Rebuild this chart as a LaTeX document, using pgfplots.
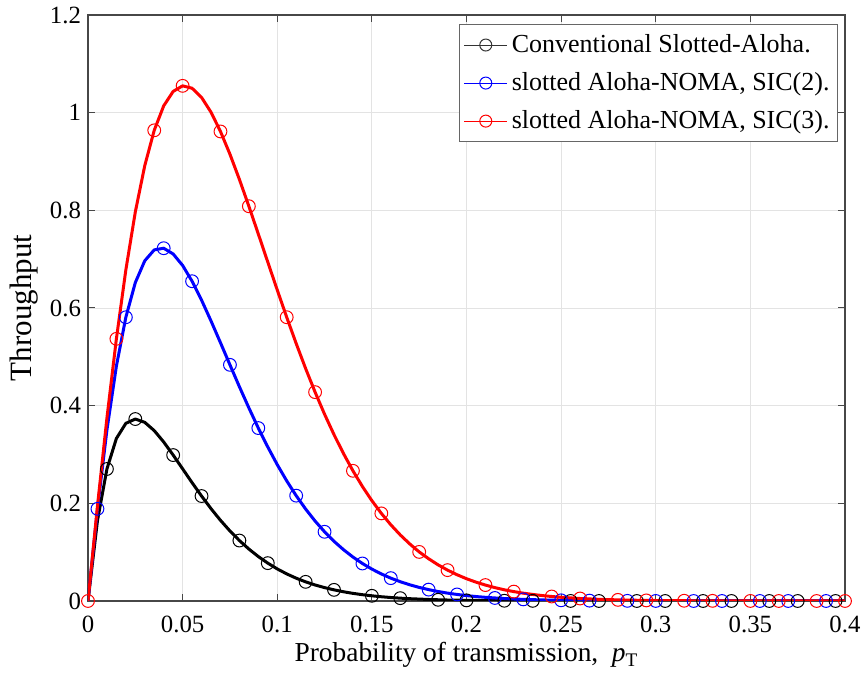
\documentclass[border=0pt]{standalone}
\usepackage{fontspec}
\setmainfont{Liberation Serif}
\usepackage{pgfplots}
\usepackage{pgfplotstable}
\pgfplotsset{compat=1.18}
\pgfplotstableread{
x k b r
0 0 0 0
0.005 0.1645 0.1887 0.1944
0.010 0.2703 0.3502 0.3747
0.015 0.3328 0.4810 0.5368
0.020 0.3638 0.5810 0.6780
0.025 0.3726 0.6520 0.7966
0.030 0.3658 0.6967 0.8916
0.035 0.3489 0.7190 0.9638
0.040 0.3256 0.7224 1.0139
0.045 0.2988 0.7106 1.0435
0.050 0.2706 0.6871 1.0549
0.055 0.2423 0.6548 1.0500
0.060 0.2149 0.6161 1.0312
0.065 0.1891 0.5735 1.0009
0.070 0.1652 0.5289 0.9615
0.075 0.1434 0.4836 0.9150
0.080 0.1238 0.4388 0.8633
0.085 0.1064 0.3955 0.8084
0.090 0.0910 0.3541 0.7515
0.095 0.0775 0.3154 0.6940
0.100 0.0657 0.2792 0.6369
0.105 0.0555 0.2460 0.5811
0.110 0.0467 0.2157 0.5273
0.115 0.0392 0.1883 0.4760
0.120 0.0328 0.1637 0.4277
0.125 0.0274 0.1417 0.3825
0.130 0.0228 0.1222 0.3406
0.135 0.0189 0.1051 0.3019
0.140 0.0156 0.0900 0.2666
0.145 0.0129 0.0768 0.2345
0.150 0.0106 0.0653 0.2055
0.155 0.0087 0.0554 0.1794
0.160 0.0071 0.0468 0.1561
0.165 0.0058 0.0395 0.1353
0.170 0.0047 0.0332 0.1169
0.175 0.0039 0.0278 0.1005
0.180 0.0031 0.0233 0.0865
0.185 0.0025 0.0194 0.0740
0.190 0.0020 0.0161 0.0632
0.195 0.0017 0.0134 0.0538
0.200 0.0013 0.0110 0.0456
0.205 0.0011 0.0091 0.0386
0.210 0.0009 0.0075 0.0326
0.215 0.0007 0.0062 0.0274
0.220 0.0005 0.0050 0.0229
0.225 0.0004 0.0041 0.0192
0.230 0.0003 0.0033 0.0160
0.235 0.0003 0.0027 0.0134
0.240 0.0002 0.0022 0.0111
0.245 0.0002 0.0018 0.0092
0.250 0.0001 0.0014 0.0076
0.260 0.0001 0.0009 0.0051
0.270 0.0000 0.0006 0.0034
0.280 0.0000 0.0004 0.0023
0.290 0 0.0003 0.0015
0.300 0 0.0001 0.0010
0.320 0 0 0.0004
0.340 0 0 0.0001
0.360 0 0 0
0.400 0 0 0
}\linedata
\pgfplotstableread{
x y
0.010 0.2703
0.025 0.3726
0.045 0.2988
0.060 0.2149
0.080 0.1238
0.095 0.0775
0.115 0.0392
0.130 0.0228
0.150 0.0106
0.165 0.0058
0.185 0.0025
0.200 0.0013
0.220 0.0005
0.235 0.0003
0.255 0.0001
0.270 0
0.290 0
0.305 0
0.325 0
0.340 0
0.360 0
0.375 0
0.395 0
}\markk
\pgfplotstableread{
x y
0.005 0.1887
0.020 0.5810
0.040 0.7224
0.055 0.6548
0.075 0.4836
0.090 0.3541
0.110 0.2157
0.125 0.1417
0.145 0.0768
0.160 0.0468
0.180 0.0233
0.195 0.0134
0.215 0.0062
0.230 0.0033
0.250 0.0014
0.265 0.0007
0.285 0.0003
0.300 0.0001
0.320 0
0.335 0
0.355 0
0.370 0
0.390 0
}\markb
\pgfplotstableread{
x y
0 0
0.015 0.5368
0.035 0.9638
0.050 1.0549
0.070 0.9615
0.085 0.8084
0.105 0.5811
0.120 0.4277
0.140 0.2666
0.155 0.1794
0.175 0.1005
0.190 0.0632
0.210 0.0326
0.225 0.0192
0.245 0.0092
0.260 0.0051
0.280 0.0023
0.295 0.0012
0.315 0.0005
0.330 0.0003
0.350 0.0001
0.365 0
0.385 0
0.400 0
}\markr
\begin{document}
\begin{tikzpicture}
\begin{axis}[
  name=ax,
  scale only axis, width=378.5pt, height=293pt,
  xmin=0, xmax=0.4, ymin=0, ymax=1.2,
  xtick={0,0.05,0.1,0.15,0.2,0.25,0.3,0.35,0.4},
  xticklabels={0,0.05,0.1,0.15,0.2,0.25,0.3,0.35,0.4},
  ytick={0,0.2,0.4,0.6,0.8,1,1.2},
  yticklabels={0,0.2,0.4,0.6,0.8,1,1.2},
  tick align=inside, major tick length=3.5pt,
  grid=major, grid style={color=black!11, line width=0.4pt},
  axis line style={color=black!72, line width=0.6pt},
  every tick/.style={color=black!72, line width=0.5pt},
  tick label style={font=\fontsize{12.4}{14}\selectfont},
  xticklabel style={yshift=-4pt},
  xlabel={Probability of transmission,\ \ \textit{p}\textsubscript{T}},
  ylabel={Throughput},
  xlabel style={font=\fontsize{13.7}{15}\selectfont, at={(axis description cs:0.5,-0.1036)}, anchor=base},
  ylabel style={font=\fontsize{15.5}{17}\selectfont, at={(axis description cs:-0.0839,0.5)}, anchor=center},
  legend style={at={(0.9908,0.9846)}, anchor=north east, draw=black!60, line width=0.5pt,
    font=\fontsize{13}{15}\selectfont, cells={anchor=west}, row sep=4.5pt, inner xsep=2pt, inner ysep=3pt},
  legend image code/.code={\draw[mark repeat=2,mark phase=2,#1] plot coordinates {(0pt,0pt) (10.75pt,0pt) (21.5pt,0pt)};},
  mark options={solid, line width=0.5pt},
]
\addplot[black, line width=1.5pt, line join=round, forget plot] table[x=x, y=k] {\linedata};
\addplot[black, only marks, mark=o, mark size=3.2pt, forget plot] table {\markk};
\addplot[blue, line width=1.5pt, line join=round, forget plot] table[x=x, y=b] {\linedata};
\addplot[blue, only marks, mark=o, mark size=3.2pt, forget plot] table {\markb};
\addplot[red, line width=1.5pt, line join=round, forget plot] table[x=x, y=r] {\linedata};
\addplot[red, only marks, mark=o, mark size=3.2pt, forget plot] table {\markr};
\addlegendimage{black!80, line width=0.5pt, mark=o, mark size=3pt}
\addlegendentry{Conventional Slotted-Aloha.}
\addlegendimage{blue, line width=0.5pt, mark=o, mark size=3pt}
\addlegendentry{slotted Aloha-NOMA, SIC(2).}
\addlegendimage{red, line width=0.5pt, mark=o, mark size=3pt}
\addlegendentry{slotted Aloha-NOMA, SIC(3).}
\end{axis}
\pgfresetboundingbox
\path (ax.south west) ++(-44pt,-41pt) rectangle ++(431.5pt,341.5pt);
\end{tikzpicture}
\end{document}
